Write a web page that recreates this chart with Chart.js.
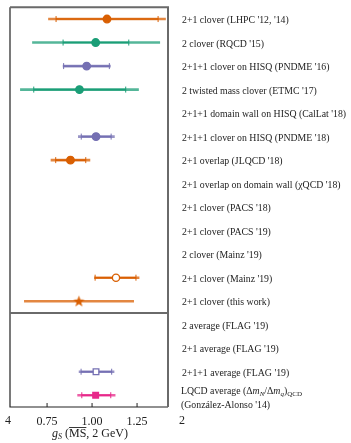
<!DOCTYPE html>
<html><head><meta charset="utf-8">
<script src="https://cdn.jsdelivr.net/npm/chart.js@4"></script>
<style>html,body{margin:0;padding:0;background:#fff}#c{display:block}</style>
</head><body>
<canvas id="c" width="351" height="443"></canvas>
<script>
const labels = [
  "2+1 clover (LHPC '12, '14)",
  "2 clover (RQCD '15)",
  "2+1+1 clover on HISQ (PNDME '16)",
  "2 twisted mass clover (ETMC '17)",
  "2+1+1 domain wall on HISQ (CalLat '18)",
  "2+1+1 clover on HISQ (PNDME '18)",
  "2+1 overlap (JLQCD '18)",
  "2+1 overlap on domain wall (\u03C7QCD '18)",
  "2+1 clover (PACS '18)",
  "2+1 clover (PACS '19)",
  "2 clover (Mainz '19)",
  "2+1 clover (Mainz '19)",
  "2+1 clover (this work)",
  "2 average (FLAG '19)",
  "2+1 average (FLAG '19)",
  "2+1+1 average (FLAG '19)",
  "LQCD average"
];
const rows     = [1,2,3,4,5,6,7,8,9,10,11,12,13,14,15,16,17];
const centers  = [1.083,1.02,0.97,0.93,null,1.022,0.88,null,null,null,null,1.133,0.927,null,null,1.022,1.02];
const statLow  = [0.80,0.839,0.842,0.676,null,0.94,0.798,null,null,null,null,1.017,null,null,null,0.939,0.943];
const statHigh = [1.367,1.204,1.096,1.187,null,1.106,0.965,null,null,null,null,1.244,null,null,null,1.109,1.104];
const totLow   = [0.756,0.667,0.837,0.60,null,0.922,0.77,null,null,null,null,1.011,0.622,null,null,0.926,0.918];
const totHigh  = [1.41,1.378,1.104,1.26,null,1.126,0.99,null,null,null,null,1.263,1.233,null,null,1.124,1.13];
const xTicks   = [0.75, 1.0, 1.25];

const ORANGE = '#d95f02', GREEN = '#1b9e77', PURPLE = '#7570b3', PINK = '#e7298a';
const rowColors = [ORANGE,GREEN,PURPLE,GREEN,null,PURPLE,ORANGE,null,null,null,null,ORANGE,ORANGE,null,null,PURPLE,PINK];

function makeStar(color){
  const c = document.createElement('canvas'); c.width = 13; c.height = 13;
  const g = c.getContext('2d'); g.fillStyle = color; g.beginPath();
  for (let k = 0; k < 10; k++){
    const r = k % 2 ? 2.4 : 6, a = -Math.PI/2 + k*Math.PI/5;
    g.lineTo(6.5 + r*Math.cos(a), 6.8 + r*Math.sin(a));
  }
  g.closePath(); g.fill(); return c;
}
const star = makeStar(ORANGE);
const markerStyle = ['circle','circle','circle','circle',null,'circle','circle',null,null,null,null,'circle',star,null,null,'rect','rect'];
const markerFill  = [ORANGE,GREEN,PURPLE,GREEN,null,PURPLE,ORANGE,null,null,null,null,'#ffffff',ORANGE,null,null,'#ffffff',PINK];
const markerRad   = [3.8,3.8,3.8,3.8,0,3.8,3.8,0,0,0,0,3.6,6,0,0,4,4];

const idx = rows.map((r,i)=>i).filter(i => centers[i] !== null);
const pts = idx.map(i => ({x: centers[i], y: rows[i]}));

function alpha(hex, a){
  const n = parseInt(hex.slice(1),16);
  return `rgba(${n>>16},${(n>>8)&255},${n&255},${a})`;
}

const SERIF = "'Liberation Serif', 'DejaVu Serif', serif";

const errPlugin = {
  id: 'errbars',
  beforeDatasetsDraw(chart){
    const ctx = chart.ctx, xs = chart.scales.x, ys = chart.scales.y;
    ctx.save();
    rows.forEach((r,i) => {
      if (totLow[i] === null) return;
      const y = ys.getPixelForValue(r), col = rowColors[i];
      ctx.strokeStyle = alpha(col, 0.75); ctx.lineWidth = 2.6;
      ctx.beginPath(); ctx.moveTo(xs.getPixelForValue(totLow[i]), y); ctx.lineTo(xs.getPixelForValue(totHigh[i]), y); ctx.stroke();
      if (statLow[i] !== null){
        const a = xs.getPixelForValue(statLow[i]), b = xs.getPixelForValue(statHigh[i]);
        ctx.strokeStyle = col; ctx.lineWidth = 1.6;
        ctx.beginPath(); ctx.moveTo(a, y); ctx.lineTo(b, y); ctx.stroke();
        ctx.lineWidth = 1;
        ctx.beginPath(); ctx.moveTo(a, y-3); ctx.lineTo(a, y+3); ctx.moveTo(b, y-3); ctx.lineTo(b, y+3); ctx.stroke();
      }
    });
    ctx.restore();
  },
  afterDraw(chart){
    const ctx = chart.ctx, a = chart.chartArea, xs = chart.scales.x, ys = chart.scales.y;
    ctx.save();
    // frame
    ctx.strokeStyle = '#222'; ctx.lineWidth = 1.2;
    ctx.beginPath(); ctx.moveTo(a.left, a.top); ctx.lineTo(a.left, a.bottom); ctx.lineTo(a.right, a.bottom); ctx.stroke();
    ctx.strokeStyle = '#6a6a6a'; ctx.lineWidth = 2;
    ctx.beginPath(); ctx.moveTo(a.left, a.top); ctx.lineTo(a.right, a.top); ctx.lineTo(a.right, a.bottom); ctx.stroke();
    const sep = ys.getPixelForValue(13.5);
    ctx.beginPath(); ctx.moveTo(a.left, sep); ctx.lineTo(a.right, sep); ctx.stroke();
    // inward ticks
    ctx.strokeStyle = '#222'; ctx.lineWidth = 1;
    xTicks.forEach(v => { const x = xs.getPixelForValue(v); ctx.beginPath(); ctx.moveTo(x, a.bottom); ctx.lineTo(x, a.bottom-4); ctx.stroke(); });
    // clipped neighbouring tick labels
    ctx.fillStyle = '#222'; ctx.font = '12px ' + SERIF; ctx.textAlign = 'center'; ctx.textBaseline = 'middle';
    ctx.fillText('4', 8, 421);
    ctx.fillText('2', 182, 421);
    // right labels
    ctx.font = '9.8px ' + SERIF; ctx.textAlign = 'left'; ctx.fillStyle = '#222';
    const lx = a.right + 14;
    rows.forEach((r,i) => {
      const y = ys.getPixelForValue(r) + 1.5;
      if (i < 16) ctx.fillText(labels[i], lx, y);
    });
    // rich label (last row)
    let y17 = ys.getPixelForValue(17) - 4, x = lx - 1;
    const segs = [
      ['LQCD average (\u0394', '', 0], ['m', 'i', 0], ['N', 'i', 3], ['/\u0394', '', 0], ['m', 'i', 0], ['q', 'i', 3], [')', '', 0], ['QCD', '', 3]
    ];
    segs.forEach(([t, st, sub]) => {
      const sz = sub ? 7 : 9.8;
      ctx.font = (st === 'i' ? 'italic ' : '') + sz + 'px ' + SERIF;
      ctx.fillText(t, x, y17 + sub);
      x += ctx.measureText(t).width;
    });
    ctx.font = '9.8px ' + SERIF;
    ctx.fillText("(Gonz\u00E1lez-Alonso '14)", lx - 1, y17 + 14);
    // axis title
    const parts = [['g','italic 12px ',0],['S','italic 8px ',3],[' (','12px ',0],['MS','12px ',0],[', 2 GeV)','12px ',0]];
    let w = 0; parts.forEach(p => { ctx.font = p[1] + SERIF; w += ctx.measureText(p[0]).width; });
    let tx = (a.left + a.right)/2 - w/2 + 1, ty = 434;
    parts.forEach(p => {
      ctx.font = p[1] + SERIF;
      const pw = ctx.measureText(p[0]).width;
      ctx.fillText(p[0], tx, ty + p[2]);
      if (p[0] === 'MS'){ ctx.strokeStyle = '#222'; ctx.lineWidth = 0.9; ctx.beginPath(); ctx.moveTo(tx, ty - 6.5); ctx.lineTo(tx + pw, ty - 6.5); ctx.stroke(); }
      tx += pw;
    });
    ctx.restore();
  }
};

new Chart(document.getElementById('c'), {
  type: 'scatter',
  data: { datasets: [{
    data: pts,
    pointStyle: idx.map(i => markerStyle[i]),
    pointRadius: idx.map(i => markerRad[i]),
    pointHoverRadius: idx.map(i => markerRad[i]),
    pointBackgroundColor: idx.map(i => markerFill[i]),
    pointBorderColor: idx.map(i => rowColors[i]),
    pointBorderWidth: 1.3
  }]},
  options: {
    responsive: false, animation: false, events: [],
    layout: { padding: { left: 10, right: 183, top: 5, bottom: 0 } },
    plugins: { legend: { display: false }, tooltip: { enabled: false } },
    scales: {
      x: {
        type: 'linear', min: 0.544, max: 1.422,
        afterBuildTicks: s => { s.ticks = xTicks.map(v => ({ value: v })); },
        afterFit: s => { s.height = 36; },
        grid: { display: false, drawTicks: false },
        border: { display: false },
        ticks: { color: '#222', padding: 8, font: { family: SERIF, size: 12 }, callback: v => Number(v).toFixed(2), maxRotation: 0, autoSkip: false }
      },
      y: { type: 'linear', reverse: true, min: 0.5, max: 17.5, display: false }
    }
  },
  plugins: [errPlugin]
});
</script>
</body></html>
